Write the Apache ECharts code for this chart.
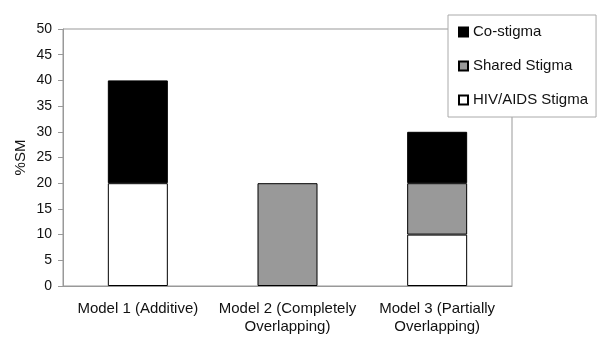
<!DOCTYPE html>
<html>
<head>
<meta charset="utf-8">
<script src="https://cdn.jsdelivr.net/npm/echarts@6/dist/echarts.min.js"></script>
<style>
  html, body { margin: 0; padding: 0; background: #fff; }
  #main { width: 600px; height: 349px; }
</style>
</head>
<body>
<div id="main"></div>
<script>
// categories and stacked values (%SM)
var models = ["Model 1 (Additive)", "Model 2 (Completely\nOverlapping)", "Model 3 (Partially\nOverlapping)"];
var hivStigma = [20, "-", 10];
var sharedStigma = ["-", 20, 10];
var coStigma = [20, "-", 10];

var chartDom = document.getElementById("main");
var myChart = echarts.init(chartDom);
var font = "Liberation Sans, Arial, sans-serif";

var option = {
    backgroundColor: "#fff",
    animation: false,
    textStyle: { fontFamily: font },
    grid: {
        left: 63,
        right: 88,
        top: 29,
        bottom: 63,
        show: true,
        borderColor: "#999",
        borderWidth: 1,
    },
    legend: {
        data: ["Co-stigma", "Shared Stigma", "HIV/AIDS Stigma"],
        orient: "vertical",
        left: 448,
        top: 15,
        padding: [9, 8, 9, 10],
        itemWidth: 9,
        itemHeight: 9,
        itemGap: 18,
        icon: "rect",
        backgroundColor: "#fff",
        borderColor: "#aaa",
        borderWidth: 1,
        textStyle: {
            fontSize: 15,
            lineHeight: 16,
            color: "#111",
            fontFamily: font,
        },
    },
    xAxis: {
        type: "category",
        data: models,
        axisLine: { lineStyle: { color: "#999" } },
        axisTick: { length: 6, lineStyle: { color: "#999" } },
        axisLabel: {
            interval: 0,
            fontSize: 15,
            lineHeight: 18,
            color: "#111",
            margin: 14,
            fontFamily: font,
        },
    },
    yAxis: {
        type: "value",
        min: 0,
        max: 50,
        interval: 5,
        name: "%SM",
        nameLocation: "middle",
        nameGap: 35,
        nameMoveOverlap: false,
        nameTextStyle: { fontSize: 15, color: "#111", fontFamily: font },
        axisLine: { show: true, lineStyle: { color: "#999" } },
        axisTick: { show: true, length: 5, lineStyle: { color: "#999" } },
        splitLine: { show: false },
        axisLabel: { fontSize: 14, color: "#111", margin: 11, fontFamily: font },
    },
    series: [
        {
            name: "HIV/AIDS Stigma",
            type: "bar",
            stack: "sm",
            barWidth: 60,
            data: hivStigma,
            itemStyle: { color: "#fff", borderColor: "#000", borderWidth: 1 },
        },
        {
            name: "Shared Stigma",
            type: "bar",
            stack: "sm",
            barWidth: 60,
            data: sharedStigma,
            itemStyle: { color: "#999", borderColor: "#000", borderWidth: 1 },
        },
        {
            name: "Co-stigma",
            type: "bar",
            stack: "sm",
            barWidth: 60,
            data: coStigma,
            itemStyle: { color: "#000", borderColor: "#000", borderWidth: 1 },
        },
    ],
};

option && myChart.setOption(option);
</script>
</body>
</html>
